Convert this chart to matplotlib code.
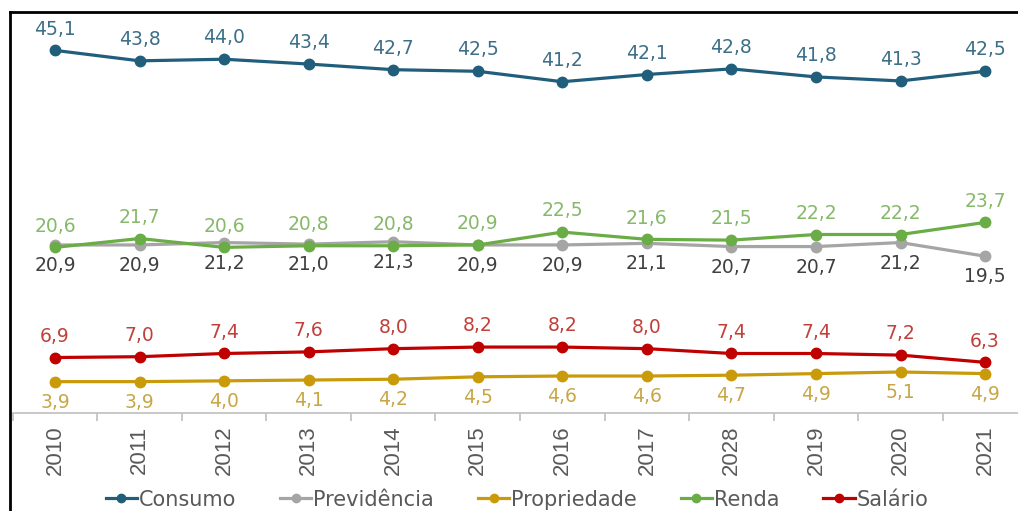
import matplotlib
matplotlib.use("Agg")
import matplotlib.pyplot as plt
from matplotlib.lines import Line2D

years = ["2010", "2011", "2012", "2013", "2014", "2015", "2016", "2017",
         "2028", "2019", "2020", "2021"]
consumo = [45.1, 43.8, 44.0, 43.4, 42.7, 42.5, 41.2, 42.1, 42.8, 41.8, 41.3, 42.5]
previdencia = [20.9, 20.9, 21.2, 21.0, 21.3, 20.9, 20.9, 21.1, 20.7, 20.7, 21.2, 19.5]
propriedade = [3.9, 3.9, 4.0, 4.1, 4.2, 4.5, 4.6, 4.6, 4.7, 4.9, 5.1, 4.9]
renda = [20.6, 21.7, 20.6, 20.8, 20.8, 20.9, 22.5, 21.6, 21.5, 22.2, 22.2, 23.7]
salario = [6.9, 7.0, 7.4, 7.6, 8.0, 8.2, 8.2, 8.0, 7.4, 7.4, 7.2, 6.3]

# name, values, line colour, label colour, label above (+1) / below (-1)
series = [
    ("Consumo", consumo, "#215e7c", "#3d6f88", 1),
    ("Previdência", previdencia, "#a5a5a5", "#404040", -1),
    ("Propriedade", propriedade, "#c99a0a", "#c8a646", -1),
    ("Renda", renda, "#6aac46", "#86b96a", 1),
    ("Salário", salario, "#c00000", "#c0403a", 1),
]

fig = plt.figure(figsize=(10.18, 5.11), dpi=100)
ax = fig.add_axes([0.0125, 0.1918, 0.9967, 0.7867])

x = list(range(len(years)))
handles = []
for name, vals, col, lcol, side in series:
    h, = ax.plot(x, vals, color=col, lw=2.3, marker="o", ms=7.5,
                 markeredgecolor=col, label=name, zorder=3)
    handles.append(h)
    for xi, v in zip(x, vals):
        txt = f"{v:.1f}".replace(".", ",")
        if side > 0:
            ax.annotate(txt, (xi, v), xytext=(0, 8.5), textcoords="offset points",
                        ha="center", va="bottom", fontsize=13.5, color=lcol,
                        family="DejaVu Sans")
        else:
            ax.annotate(txt, (xi, v), xytext=(0, -8), textcoords="offset points",
                        ha="center", va="top", fontsize=13.5, color=lcol,
                        family="DejaVu Sans")

ax.set_xlim(-0.5, len(years) - 0.5)
ax.set_ylim(0, 50)
ax.set_yticks([])
for s in ["top", "right", "left"]:
    ax.spines[s].set_visible(False)
ax.spines["bottom"].set_color("#bfbfbf")
ax.spines["bottom"].set_linewidth(1.2)

# category labels centred, tick marks on the boundaries between categories
ax.set_xticks(x)
ax.set_xticklabels(years, rotation=90, fontsize=16, color="#595959",
                   family="Liberation Sans")
ax.tick_params(axis="x", which="major", length=0, pad=9)
ax.set_xticks([i - 0.5 for i in range(len(years) + 1)], minor=True)
ax.tick_params(axis="x", which="minor", length=6, color="#bfbfbf", width=1.2)

leg = fig.legend(handles=handles, loc="center", bbox_to_anchor=(0.508, 0.022),
                 ncol=5, frameon=False, handlelength=1.5, handletextpad=0.1,
                 columnspacing=2.1, borderpad=0.1,
                 prop={"family": "DejaVu Sans", "size": 15})
for t in leg.get_texts():
    t.set_color("#595959")
for lh in leg.legend_handles:
    lh.set_markersize(6)
    lh.set_linewidth(2.3)

# outer frame (left and top edges)
fig.add_artist(Line2D([10 / 1018, 10 / 1018], [0, 1 - 12 / 511],
                      transform=fig.transFigure, color="black", lw=2))
fig.add_artist(Line2D([10 / 1018, 1], [1 - 12 / 511, 1 - 12 / 511],
                      transform=fig.transFigure, color="black", lw=2))

fig.savefig("out.png", dpi=100, facecolor="white")
